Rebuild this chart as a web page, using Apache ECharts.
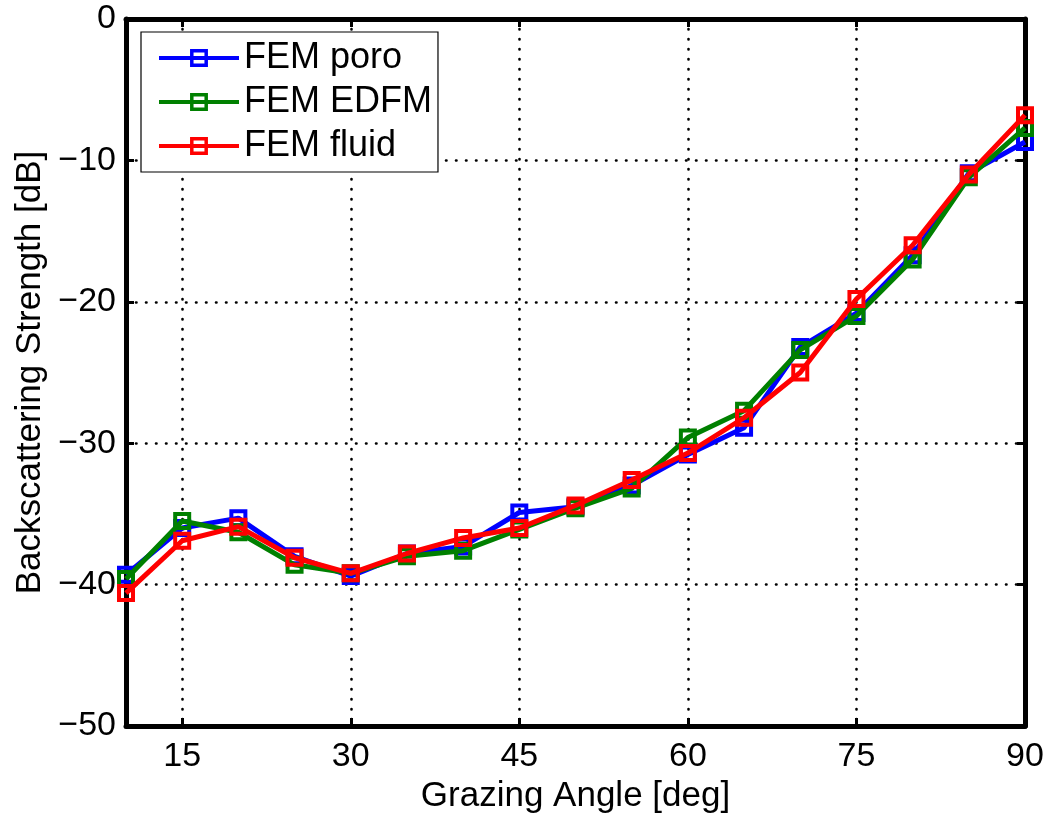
<!DOCTYPE html>
<html>
<head>
<meta charset="utf-8">
<script src="https://cdn.jsdelivr.net/npm/echarts@6/dist/echarts.min.js"></script>
<style>
html,body{margin:0;padding:0;background:#fff;}
#chart{width:1048px;height:814px;}
</style>
</head>
<body>
<div id="chart"></div>
<script>
const angles = [10,15,20,25,30,35,40,45,50,55,60,65,70,75,80,85,90];
const femPoro  = [-39.3,-36.0,-35.3,-38.0,-39.4,-37.8,-37.3,-34.9,-34.5,-33.0,-30.8,-28.9,-23.2,-20.8,-16.7,-10.9,-8.7];
const femEdfm  = [-39.6,-35.5,-36.3,-38.6,-39.2,-38.0,-37.6,-36.1,-34.6,-33.2,-29.6,-27.7,-23.4,-21.0,-17.0,-11.2,-7.7];
const femFluid = [-40.6,-36.9,-35.9,-38.1,-39.2,-37.8,-36.7,-36.0,-34.4,-32.6,-30.7,-28.2,-25.0,-19.8,-16.0,-11.0,-6.8];
const xTicks = [15,30,45,60,75,90];
const seriesNames = ['FEM poro','FEM EDFM','FEM fluid'];
const seriesColors = ['#0000ff','#008000','#ff0000'];
const seriesData = [femPoro, femEdfm, femFluid];

const FONT = 'Liberation Sans, Arial, Helvetica, sans-serif';
const chart = echarts.init(document.getElementById('chart'), null, {renderer:'canvas'});

const tickStyle = {inside:true, length:8, lineStyle:{color:'#000', width:3}};
const gridDots = {show:true, lineStyle:{color:'#000', width:2.6, type:[0.5,9.5], cap:'round'}};

const series = seriesData.map((d,i)=>({
  name: seriesNames[i],
  type: 'line',
  data: angles.map((a,j)=>[a, d[j]]),
  symbol: 'rect',
  symbolSize: 14,
  clip: false,
  lineStyle: {color: seriesColors[i], width: 5},
  itemStyle: {color: 'rgba(255,255,255,0)', borderColor: seriesColors[i], borderWidth: 4},
  emphasis: {disabled: true},
  animation: false,
  z: 3 + i
}));

chart.setOption({
  backgroundColor: '#fff',
  animation: false,
  grid: {left:126, right:23, top:19, bottom:88, containLabel:false, outerBoundsMode:'none'},
  legend: {
    left: 141, top: 32,
    orient: 'vertical',
    data: seriesNames,
    itemWidth: 80, itemHeight: 18, itemGap: 8,
    padding: [8, 6, 8, 16],
    backgroundColor: '#fff',
    borderColor: '#000', borderWidth: 1.2,
    lineStyle: {width: 4},
    itemStyle: {borderWidth: 3.5},
    textStyle: {fontFamily: FONT, fontSize: 36, color: '#000'},
    selectedMode: false
  },
  xAxis: [{
    type: 'value', min: 10, max: 90,
    position: 'bottom',
    name: 'Grazing Angle [deg]', nameLocation: 'middle', nameGap: 52,
    nameTextStyle: {fontFamily: FONT, fontSize: 35, color: '#000', verticalAlign: 'top'},
    axisLine: {show:true, onZero:false, lineStyle:{color:'#000', width:5}},
    axisTick: Object.assign({customValues: xTicks}, tickStyle),
    axisLabel: {customValues: xTicks, fontFamily: FONT, fontSize: 34, color:'#000', margin: 14},
    splitLine: gridDots
  },{
    type: 'value', min: 10, max: 90,
    position: 'top',
    axisLine: {show:true, onZero:false, lineStyle:{color:'#000', width:5}},
    axisTick: Object.assign({customValues: xTicks}, tickStyle),
    axisLabel: {show:false},
    splitLine: {show:false}
  }],
  yAxis: [{
    type: 'value', min: -50, max: 0, interval: 10,
    position: 'left',
    name: 'Backscattering Strength [dB]', nameLocation: 'middle', nameGap: 78,
    nameTextStyle: {fontFamily: FONT, fontSize: 35, color: '#000'},
    axisLine: {show:true, onZero:false, lineStyle:{color:'#000', width:5}},
    axisTick: tickStyle,
    axisLabel: {fontFamily: FONT, fontSize: 34, color:'#000', margin: 10,
      formatter: v => String(v).replace('-', '\u2212')},
    splitLine: gridDots
  },{
    type: 'value', min: -50, max: 0, interval: 10,
    position: 'right',
    axisLine: {show:true, onZero:false, lineStyle:{color:'#000', width:5}},
    axisTick: tickStyle,
    axisLabel: {show:false},
    splitLine: {show:false}
  }],
  series: series
});
</script>
</body>
</html>
